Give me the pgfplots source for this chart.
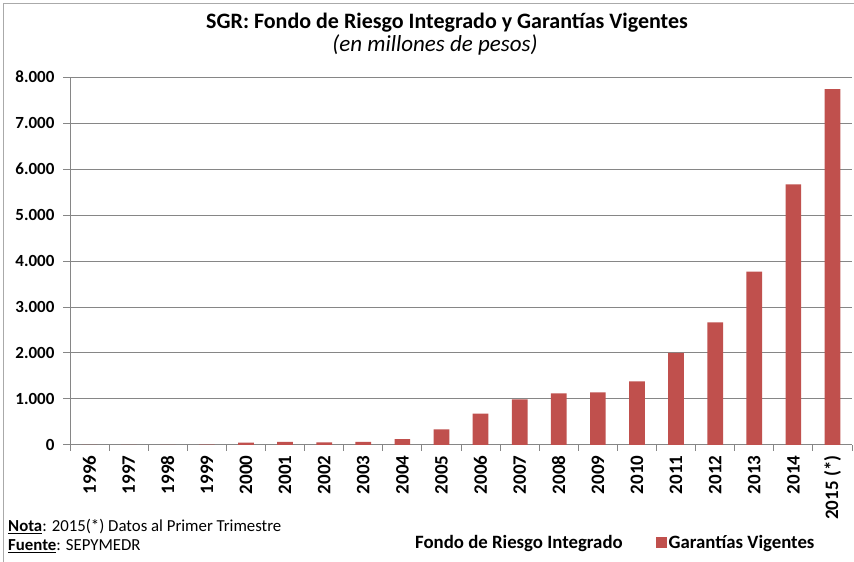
\documentclass[border=0pt]{standalone}
\usepackage{pgfplots}
\pgfplotsset{compat=1.18}
\usepackage{fontspec}
\setmainfont{Carlito}
\definecolor{barred}{HTML}{C0504D}
\definecolor{gridgray}{HTML}{868686}
\begin{document}
\begin{tikzpicture}[x=1pt,y=1pt]
\useasboundingbox (0,0) rectangle (854,562);
\fill[white] (0,0) rectangle (854,562);
\draw[gridgray!70, line width=1pt] (3,0) -- (3,558) -- (854,558);
\node[anchor=base, font=\bfseries\fontsize{22}{26}\selectfont] at (447,533) {SGR: Fondo de Riesgo Integrado y Garantías Vigentes};
\node[anchor=base, font=\itshape\fontsize{23}{26}\selectfont] at (435,510) {(en millones de pesos)};
\node[anchor=base west, font=\fontsize{16.8}{19}\selectfont, inner sep=0pt] at (8,30) {\textbf{\underline{Nota}}: 2015(*) Datos al Primer Trimestre};
\node[anchor=base west, font=\fontsize{16.8}{19}\selectfont, inner sep=0pt] at (8,11) {\textbf{\underline{Fuente}}: SEPYMEDR};
\begin{axis}[
  at={(70pt,117pt)}, anchor=south west,
  width=782pt, height=368pt, scale only axis,
  xmin=-0.5, xmax=19.5, ymin=0, ymax=8000,
  ytick={0,1000,...,8000},
  xtick={0,...,19},
  xticklabels={1996,1997,1998,1999,2000,2001,2002,2003,2004,2005,2006,2007,2008,2009,2010,2011,2012,2013,2014,2015 (*)},
  minor xtick={-0.5,0.5,...,19.5},
  major x tick style={draw=none},
  minor tick length=6pt,
  major tick length=7pt,
  tick align=outside,
  tick style={gridgray, line width=1pt},
  axis lines*=left,
  axis line style={gridgray, line width=1pt, -},
  ymajorgrids=true,
  grid style={gridgray, line width=1pt},
  /pgf/number format/.cd, assume math mode=true, 1000 sep={.}, use comma,
  /pgfplots/.cd,
  yticklabel style={font=\bfseries\fontsize{17}{17}\selectfont, anchor=east, xshift=-5pt},
  xticklabel style={font=\bfseries\fontsize{19}{19}\selectfont, rotate=90, anchor=east},
  ybar, bar width=15.7pt,
  legend columns=2,
  legend style={at={(0.4348,-0.266)}, anchor=west, draw=none, fill=none,
    font=\bfseries\fontsize{18.8}{21}\selectfont,
    /tikz/every even column/.append style={column sep=31pt}},
  legend image code/.code={\fill[barred] (0pt,-5.5pt) rectangle (11pt,5.5pt);},
]
\addlegendimage{legend image code/.code={}}
\addlegendentry{Fondo de Riesgo Integrado}
\addplot[fill=barred, draw=none] coordinates {
(0,0) (1,0) (2,0) (3,10) (4,50) (5,70) (6,55) (7,70) (8,130) (9,341)
(10,683) (11,993) (12,1124) (13,1146) (14,1385) (15,2000) (16,2667) (17,3770) (18,5667) (19,7739)};
\addlegendentry{Garantías Vigentes}
\end{axis}
\end{tikzpicture}
\end{document}
